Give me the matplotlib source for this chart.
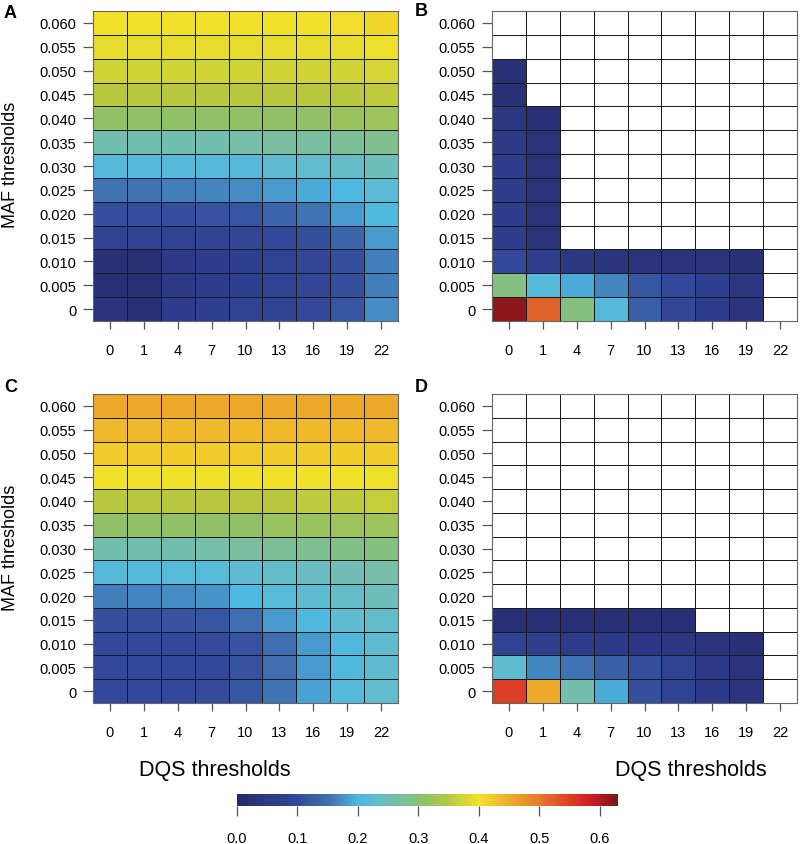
import numpy as np
import matplotlib
matplotlib.use("Agg")
import matplotlib.pyplot as plt
from matplotlib.colors import LinearSegmentedColormap, Normalize
from matplotlib.cm import ScalarMappable

plt.rcParams['font.family'] = ['Liberation Sans', 'DejaVu Sans']

dqs_labels = ["0", "1", "4", "7", "10", "13", "16", "19", "22"]
maf_labels = ["0", "0.005", "0.010", "0.015", "0.020", "0.025", "0.030",
              "0.035", "0.040", "0.045", "0.050", "0.055", "0.060"]
N = None

# rows: MAF 0 (bottom) -> 0.060 (top); columns: DQS thresholds
panel_a = [
    [0.03, 0.02, 0.06, 0.07, 0.075, 0.085, 0.10, 0.12, 0.17],
    [0.02, 0.015, 0.05, 0.06, 0.07, 0.08, 0.09, 0.11, 0.16],
    [0.02, 0.015, 0.05, 0.06, 0.07, 0.08, 0.09, 0.11, 0.16],
    [0.08, 0.075, 0.08, 0.085, 0.09, 0.10, 0.11, 0.14, 0.18],
    [0.11, 0.11, 0.11, 0.115, 0.12, 0.14, 0.155, 0.18, 0.205],
    [0.155, 0.155, 0.16, 0.165, 0.17, 0.18, 0.19, 0.20, 0.22],
    [0.21, 0.21, 0.21, 0.21, 0.21, 0.225, 0.23, 0.235, 0.25],
    [0.26, 0.26, 0.26, 0.26, 0.265, 0.27, 0.27, 0.275, 0.28],
    [0.31, 0.31, 0.31, 0.31, 0.31, 0.31, 0.31, 0.315, 0.32],
    [0.35, 0.35, 0.35, 0.35, 0.35, 0.35, 0.35, 0.35, 0.355],
    [0.37, 0.37, 0.37, 0.37, 0.37, 0.37, 0.37, 0.37, 0.375],
    [0.39, 0.39, 0.39, 0.39, 0.39, 0.39, 0.39, 0.39, 0.395],
    [0.40, 0.40, 0.40, 0.40, 0.40, 0.40, 0.40, 0.405, 0.41],
]
panel_b = [
    [0.62, 0.52, 0.29, 0.21, 0.13, 0.09, 0.06, 0.03, N],
    [0.29, 0.21, 0.19, 0.165, 0.12, 0.10, 0.07, 0.04, N],
    [0.10, 0.065, 0.04, 0.035, 0.03, 0.03, 0.03, 0.02, N],
    [0.06, 0.025, N, N, N, N, N, N, N],
    [0.06, 0.025, N, N, N, N, N, N, N],
    [0.06, 0.025, N, N, N, N, N, N, N],
    [0.06, 0.025, N, N, N, N, N, N, N],
    [0.05, 0.025, N, N, N, N, N, N, N],
    [0.04, 0.02, N, N, N, N, N, N, N],
    [0.02, N, N, N, N, N, N, N, N],
    [0.02, N, N, N, N, N, N, N, N],
    [N, N, N, N, N, N, N, N, N],
    [N, N, N, N, N, N, N, N, N],
]
panel_c = [
    [0.10, 0.10, 0.10, 0.105, 0.12, 0.155, 0.185, 0.21, 0.23],
    [0.10, 0.10, 0.10, 0.10, 0.115, 0.15, 0.18, 0.205, 0.225],
    [0.10, 0.10, 0.10, 0.105, 0.115, 0.15, 0.18, 0.205, 0.225],
    [0.11, 0.11, 0.115, 0.12, 0.15, 0.18, 0.205, 0.225, 0.235],
    [0.16, 0.165, 0.17, 0.175, 0.20, 0.215, 0.225, 0.235, 0.25],
    [0.21, 0.21, 0.215, 0.215, 0.225, 0.235, 0.245, 0.255, 0.265],
    [0.26, 0.26, 0.26, 0.265, 0.27, 0.275, 0.28, 0.285, 0.29],
    [0.31, 0.31, 0.31, 0.31, 0.31, 0.315, 0.315, 0.32, 0.32],
    [0.35, 0.35, 0.35, 0.35, 0.35, 0.35, 0.355, 0.355, 0.36],
    [0.40, 0.40, 0.40, 0.40, 0.40, 0.40, 0.40, 0.40, 0.395],
    [0.42, 0.42, 0.42, 0.42, 0.42, 0.42, 0.42, 0.42, 0.42],
    [0.44, 0.44, 0.44, 0.44, 0.44, 0.44, 0.44, 0.44, 0.44],
    [0.455, 0.455, 0.455, 0.455, 0.455, 0.455, 0.455, 0.455, 0.455],
]
panel_d = [
    [0.55, 0.455, 0.26, 0.19, 0.11, 0.08, 0.05, 0.03, N],
    [0.225, 0.165, 0.155, 0.13, 0.11, 0.08, 0.05, 0.03, N],
    [0.08, 0.065, 0.055, 0.05, 0.045, 0.04, 0.03, 0.02, N],
    [0.02, 0.02, 0.02, 0.02, 0.02, 0.02, N, N, N],
    [N, N, N, N, N, N, N, N, N],
    [N, N, N, N, N, N, N, N, N],
    [N, N, N, N, N, N, N, N, N],
    [N, N, N, N, N, N, N, N, N],
    [N, N, N, N, N, N, N, N, N],
    [N, N, N, N, N, N, N, N, N],
    [N, N, N, N, N, N, N, N, N],
    [N, N, N, N, N, N, N, N, N],
    [N, N, N, N, N, N, N, N, N],
]

vmin, vmax = 0.0, 0.63
anchors = [
    (0.00, "#282A6A"), (0.05, "#2D3A88"), (0.10, "#33489A"), (0.15, "#3F6EB0"),
    (0.20, "#4DB8E2"), (0.25, "#6FBEBE"), (0.30, "#8CC070"), (0.35, "#B8C83E"),
    (0.40, "#F2E22A"), (0.45, "#EEAE2A"), (0.50, "#E57A2E"), (0.55, "#DC3F28"),
    (0.58, "#D42028"), (0.63, "#7A1518"),
]
cmap = LinearSegmentedColormap.from_list(
    "pal", [((v - vmin) / (vmax - vmin), c) for v, c in anchors])
cmap.set_bad("white")
norm = Normalize(vmin, vmax)

fig = plt.figure(figsize=(8.0, 8.45), dpi=100)
W, H = 800.0, 845.0

def box(l, t, r, b):
    return [l / W, 1 - b / H, (r - l) / W, (b - t) / H]

panels = [
    ("A", panel_a, box(93, 12, 398, 322), (4, 13), True),
    ("B", panel_b, box(492, 12, 797, 322), (415, 12), False),
    ("C", panel_c, box(93, 395, 398, 704), (4, 388), True),
    ("D", panel_d, box(492, 395, 797, 704), (415, 388), False),
]

for letter, data, rect, lpos, left in panels:
    ax = fig.add_axes(rect)
    arr = np.array([[np.nan if v is None else v for v in row] for row in data], dtype=float)
    ax.pcolormesh(np.arange(len(dqs_labels) + 1) - 0.5,
                  np.arange(len(maf_labels) + 1) - 0.5,
                  np.ma.masked_invalid(arr), cmap=cmap, norm=norm,
                  edgecolor="#1a1a1a", linewidth=0.65)
    ax.set_xlim(-0.5, len(dqs_labels) - 0.5)
    ax.set_ylim(-0.5, len(maf_labels) - 0.5)
    ax.set_xticks(np.arange(len(dqs_labels)))
    ax.set_xticklabels(dqs_labels)
    ax.set_yticks(np.arange(len(maf_labels)))
    ax.set_yticklabels(maf_labels)
    ax.tick_params(axis="x", length=6, width=0.9, color="#555555", pad=10, labelsize=10.5)
    ax.tick_params(axis="y", length=7, width=0.9, color="#555555", pad=5, labelsize=10.5)
    for s in ax.spines.values():
        s.set_color("#666666")
        s.set_linewidth(0.8)
    fig.text(lpos[0] / W, 1 - lpos[1] / H, letter, fontsize=13,
             fontweight="bold", ha="left", va="center")
    if left:
        ytop = (1 - rect[1] - rect[3]) * H
        fig.text(11 / W, 1 - (ytop + 153) / H, "MAF thresholds", fontsize=13,
                 rotation=90, ha="center", va="center")

fig.text(215 / W, 1 - 771 / H, "DQS thresholds", fontsize=15.5, ha="center", va="center")
fig.text(691 / W, 1 - 771 / H, "DQS thresholds", fontsize=15.5, ha="center", va="center")

cax = fig.add_axes(box(237, 795, 618, 807))
cb = fig.colorbar(ScalarMappable(norm=norm, cmap=cmap), cax=cax, orientation="horizontal")
cb.set_ticks([0.0, 0.1, 0.2, 0.3, 0.4, 0.5, 0.6])
cb.set_ticklabels(["0.0", "0.1", "0.2", "0.3", "0.4", "0.5", "0.6"])
cb.outline.set_visible(False)
cax.tick_params(length=7, width=0.9, color="#555555", pad=11, labelsize=10.5)

fig.savefig("out.png", dpi=100)
